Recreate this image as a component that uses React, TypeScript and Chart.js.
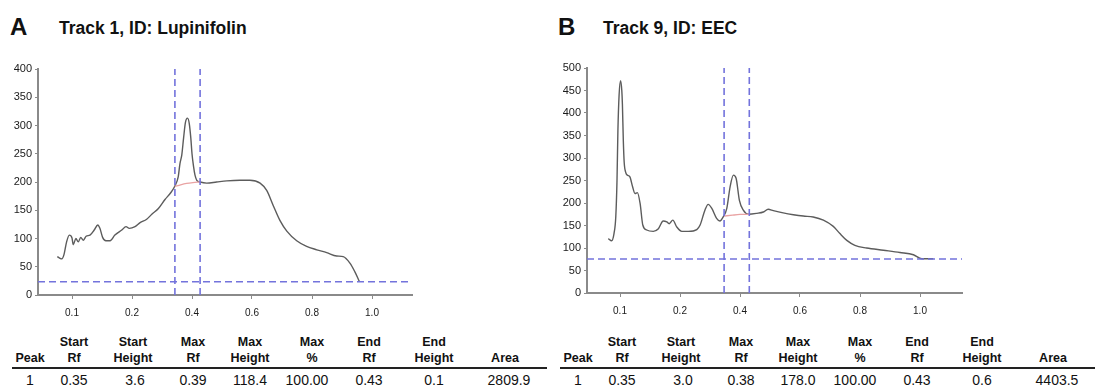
import React, { useEffect, useRef } from 'react';
import { Chart, registerables } from 'chart.js';

Chart.register(...registerables);

const FONT = "'Liberation Sans', Arial, sans-serif";

// x-axis ticks (Rf) and the printed labels
const xTickValues = [0, 0.2, 0.4, 0.6, 0.8, 1.0];
const xTickLabels = ['0.1', '0.2', '0.4', '0.6', '0.8', '1.0'];

// ---- Panel A: Track 1, ID: Lupinifolin ----
const trackARf = [-0.049, -0.040, -0.034, -0.027, -0.018, -0.009, 0.000, 0.004, 0.013, 0.021, 0.029, 0.038, 0.047, 0.060, 0.074, 0.086, 0.093, 0.102, 0.113, 0.127, 0.143, 0.166, 0.180, 0.191, 0.210, 0.227, 0.249, 0.266, 0.288, 0.310, 0.329, 0.343, 0.354, 0.360, 0.366, 0.372, 0.378, 0.385, 0.391, 0.396, 0.400, 0.405, 0.410, 0.416, 0.427, 0.449, 0.482, 0.516, 0.560, 0.593, 0.627, 0.649, 0.671, 0.693, 0.716, 0.749, 0.782, 0.816, 0.849, 0.882, 0.904, 0.927, 0.943, 0.958];
const trackAHeight = [68, 65, 64, 71, 94, 106, 101, 89, 100, 94, 102, 97, 104, 106, 115, 124, 118, 102, 96, 96, 106, 115, 121, 118, 121, 128, 134, 143, 153, 169, 181, 193, 209, 233, 248, 278, 305, 313, 303, 278, 250, 228, 212, 203, 200, 198, 200, 202, 203, 203, 198, 185, 158, 132, 113, 96, 86, 80, 75, 69, 68, 56, 41, 24];
const trackABaseRf = [0.343, 0.362, 0.382, 0.403, 0.427];
const trackABaseHeight = [192, 195, 197.5, 199, 200];
const trackAMarkers = [0.343, 0.427];
const trackAThreshold = 23.5;
const trackAYMax = 400;

// ---- Panel B: Track 9, ID: EEC ----
const trackBRf = [-0.039, -0.028, -0.020, -0.014, -0.010, -0.007, -0.003, 0.002, 0.006, 0.008, 0.011, 0.014, 0.019, 0.024, 0.033, 0.042, 0.050, 0.058, 0.067, 0.076, 0.089, 0.111, 0.128, 0.144, 0.156, 0.164, 0.176, 0.189, 0.206, 0.228, 0.256, 0.267, 0.283, 0.294, 0.306, 0.322, 0.333, 0.344, 0.356, 0.367, 0.378, 0.387, 0.398, 0.411, 0.428, 0.456, 0.478, 0.494, 0.511, 0.544, 0.578, 0.611, 0.644, 0.678, 0.711, 0.733, 0.756, 0.783, 0.822, 0.878, 0.933, 0.978, 1.006, 1.044];
const trackBHeight = [121, 116, 132, 170, 250, 360, 440, 472, 450, 420, 340, 290, 268, 262, 258, 236, 221, 223, 199, 151, 140, 137, 143, 160, 158, 154, 162, 147, 137, 137, 141, 151, 184, 197, 188, 166, 160, 169, 188, 236, 262, 255, 206, 184, 175, 177, 180, 186, 183, 178, 174, 171, 169, 162, 148, 132, 117, 106, 100, 95, 90, 85, 76, 76];
const trackBBaseRf = [0.347, 0.375, 0.400, 0.431];
const trackBBaseHeight = [171, 173, 174.5, 175];
const trackBMarkers = [0.347, 0.431];
const trackBThreshold = 75.7;
const trackBYMax = 500;

// ---- Tables ----
const tableHeadTop = ['', 'Start', 'Start', 'Max', 'Max', 'Max', 'End', 'End', ''];
const tableHeadBottom = ['Peak', 'Rf', 'Height', 'Rf', 'Height', '%', 'Rf', 'Height', 'Area'];
const tableRowA = ['1', '0.35', '3.6', '0.39', '118.4', '100.00', '0.43', '0.1', '2809.9'];
const tableRowB = ['1', '0.35', '3.0', '0.38', '178.0', '100.00', '0.43', '0.6', '4403.5'];

const headX = [30, 74, 133, 193, 250, 312, 369, 434, 505];
const dataX = [30, 74, 135, 193, 250, 307, 369, 434, 509];

const AXIS = '#8a8a8a';
const TRACE = '#5c5c5c';
const DASH = '#7373dc';
const BASE = '#e9a3a3';

type PanelProps = {
  left: number;
  rf: number[];
  h: number[];
  baseRf: number[];
  baseH: number[];
  markers: number[];
  threshold: number;
  yMax: number;
  xMin: number;
  xMax: number;
  padTop: number;
  padRight: number;
  yWidth: number;
  xHeight: number;
};

const CW = 430;
const CH = 270;
const CTOP = 55;

function Panel(p: PanelProps) {
  const ref = useRef<HTMLCanvasElement | null>(null);
  useEffect(() => {
    if (!ref.current) return;
    const dashDs = (data: { x: number; y: number }[]) => ({
      data,
      borderColor: DASH,
      borderWidth: 1.6,
      borderDash: [7, 4],
      pointRadius: 0,
      fill: false,
      tension: 0,
      order: 0,
    });
    const chart = new Chart(ref.current, {
      type: 'line',
      data: {
        datasets: [
          {
            data: p.rf.map((x, i) => ({ x, y: p.h[i] })),
            borderColor: TRACE,
            borderWidth: 1.4,
            pointRadius: 0,
            fill: false,
            cubicInterpolationMode: 'monotone',
            order: 2,
          } as any,
          {
            data: p.baseRf.map((x, i) => ({ x, y: p.baseH[i] })),
            borderColor: BASE,
            borderWidth: 1.3,
            pointRadius: 0,
            fill: false,
            cubicInterpolationMode: 'monotone',
            order: 1,
          } as any,
          dashDs([{ x: p.markers[0], y: 0 }, { x: p.markers[0], y: p.yMax }]),
          dashDs([{ x: p.markers[1], y: 0 }, { x: p.markers[1], y: p.yMax }]),
          dashDs([{ x: p.xMin, y: p.threshold }, { x: p.xMax, y: p.threshold }]),
        ],
      },
      options: {
        responsive: false,
        animation: false,
        devicePixelRatio: 1,
        parsing: false as any,
        normalized: true,
        layout: { padding: { left: 0, top: p.padTop, right: p.padRight, bottom: 0 } },
        plugins: { legend: { display: false }, tooltip: { enabled: false } },
        scales: {
          x: {
            type: 'linear',
            min: p.xMin,
            max: p.xMax,
            afterBuildTicks: (s: any) => {
              s.ticks = xTickValues.map((v) => ({ value: v }));
            },
            afterFit: (s: any) => {
              s.height = p.xHeight;
            },
            ticks: {
              autoSkip: false,
              maxRotation: 0,
              padding: 8,
              color: '#1a1a1a',
              font: { family: FONT, size: 10 },
              callback: (_v: any, i: number) => xTickLabels[i],
            },
            grid: { drawOnChartArea: false, drawTicks: true, tickLength: 4, color: AXIS, lineWidth: 1 },
            border: { display: true, color: AXIS, width: 2 },
          },
          y: {
            type: 'linear',
            min: 0,
            max: p.yMax,
            afterFit: (s: any) => {
              s.width = p.yWidth;
            },
            ticks: {
              stepSize: 50,
              padding: 3,
              color: '#1a1a1a',
              font: { family: FONT, size: 11 },
            },
            grid: { drawOnChartArea: false, drawTicks: true, tickLength: 3, color: AXIS, lineWidth: 1 },
            border: { display: true, color: AXIS, width: 2 },
          },
        },
      } as any,
    });
    return () => chart.destroy();
  }, []);
  return (
    <canvas
      ref={ref}
      width={CW}
      height={CH}
      style={{ position: 'absolute', left: p.left, top: CTOP, width: CW, height: CH }}
    />
  );
}

function Txt(props: { x: number; top: number; size: number; bold?: boolean; center?: boolean; children: React.ReactNode }) {
  return (
    <div
      style={{
        position: 'absolute',
        left: props.x,
        top: props.top,
        fontFamily: FONT,
        fontSize: props.size,
        lineHeight: `${props.size}px`,
        fontWeight: props.bold ? 'bold' : 'normal',
        color: '#111',
        whiteSpace: 'nowrap',
        transform: props.center ? 'translateX(-50%)' : undefined,
      }}
    >
      {props.children}
    </div>
  );
}

function Table(props: { offset: number; row: string[] }) {
  const o = props.offset;
  return (
    <>
      {tableHeadTop.map((t, i) =>
        t ? (
          <Txt key={'t' + i} x={o + headX[i]} top={335.5} size={12.5} bold center>
            {t}
          </Txt>
        ) : null
      )}
      {tableHeadBottom.map((t, i) => (
        <Txt key={'b' + i} x={o + headX[i]} top={351.5} size={12.5} bold center>
          {t}
        </Txt>
      ))}
      <div style={{ position: 'absolute', left: o + 12, top: 366.5, width: 535, height: 2, background: '#222' }} />
      {props.row.map((t, i) => (
        <Txt key={'d' + i} x={o + dataX[i]} top={373} size={14} center>
          {t}
        </Txt>
      ))}
    </>
  );
}

export default function App() {
  return (
    <div style={{ position: 'absolute', left: 0, top: 0, width: 1095, height: 388, background: '#fff', overflow: 'hidden' }}>
      <Txt x={10} top={14.7} size={24} bold>A</Txt>
      <Txt x={59} top={19.5} size={17.5} bold>Track 1, ID: Lupinifolin</Txt>
      <Txt x={558} top={14.7} size={24} bold>B</Txt>
      <Txt x={603} top={19.5} size={17.5} bold>Track 9, ID: EEC</Txt>

      <Panel
        left={0}
        rf={trackARf}
        h={trackAHeight}
        baseRf={trackABaseRf}
        baseH={trackABaseHeight}
        markers={trackAMarkers}
        threshold={trackAThreshold}
        yMax={trackAYMax}
        xMin={-34 / 300}
        xMax={340 / 300}
        padTop={14}
        padRight={18}
        yWidth={38}
        xHeight={30}
      />
      <Panel
        left={548}
        rf={trackBRf}
        h={trackBHeight}
        baseRf={trackBBaseRf}
        baseH={trackBBaseHeight}
        markers={trackBMarkers}
        threshold={trackBThreshold}
        yMax={trackBYMax}
        xMin={-33 / 300}
        xMax={342 / 300}
        padTop={13}
        padRight={16}
        yWidth={39}
        xHeight={32}
      />

      <Table offset={0} row={tableRowA} />
      <Table offset={548} row={tableRowB} />
    </div>
  );
}
